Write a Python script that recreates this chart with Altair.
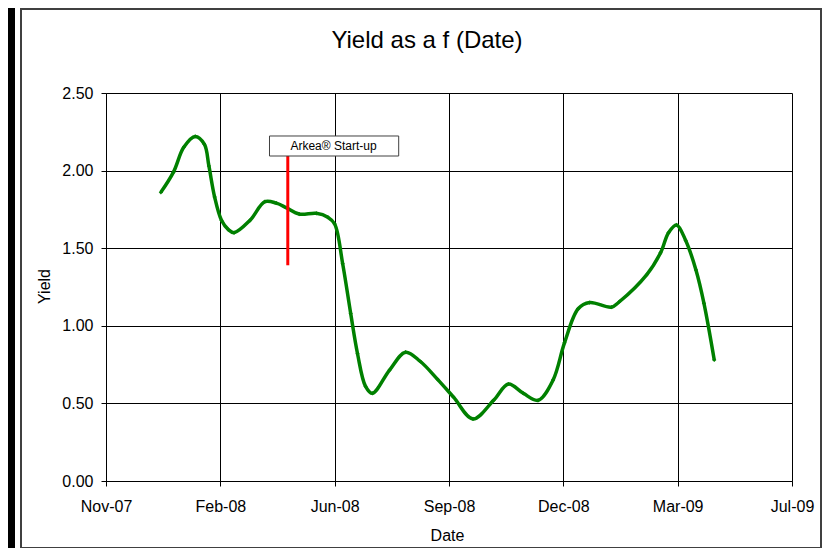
import altair as alt
import pandas as pd

# ---- data ----
dates = ["2008-01-01", "2008-01-12", "2008-01-21", "2008-01-31", "2008-02-08",
         "2008-02-12", "2008-02-17", "2008-02-23", "2008-02-29", "2008-03-05",
         "2008-03-19", "2008-04-01", "2008-04-11", "2008-04-20", "2008-05-01",
         "2008-05-16", "2008-05-26", "2008-06-01", "2008-06-08", "2008-06-15",
         "2008-06-21", "2008-06-28", "2008-07-04", "2008-07-19", "2008-08-02",
         "2008-08-15", "2008-08-30", "2008-09-13", "2008-09-30", "2008-10-18",
         "2008-10-31", "2008-11-13", "2008-11-26", "2008-12-09", "2008-12-19",
         "2008-12-31", "2009-01-10", "2009-01-29", "2009-02-05", "2009-03-01",
         "2009-03-13", "2009-03-20", "2009-03-27", "2009-04-04", "2009-04-13",
         "2009-04-20", "2009-04-29"]
yields = [1.86, 1.99, 2.15, 2.22, 2.17,
          2.03, 1.83, 1.68, 1.62, 1.60,
          1.68, 1.80, 1.79, 1.76, 1.72,
          1.725, 1.70, 1.656, 1.40, 1.08,
          0.82, 0.61, 0.565, 0.715, 0.83,
          0.77, 0.655, 0.54, 0.40, 0.52,
          0.625, 0.565, 0.52, 0.65, 0.89,
          1.11, 1.15, 1.12, 1.155, 1.33,
          1.47, 1.60, 1.65, 1.55, 1.36,
          1.145, 0.78]

y_ticks = [0.0, 0.5, 1.0, 1.5, 2.0, 2.5]
x_tick_dates = [(2007, 11, 14), (2008, 2, 22), (2008, 6, 1), (2008, 9, 9),
                (2008, 12, 18), (2009, 3, 28), (2009, 7, 6)]

startup_date = ["2008-04-21"]
startup_low = [1.39]
startup_high = [2.095]
note_text = ["Arkea® Start-up"]
note_box_start = ["2008-04-05"]
note_box_end = ["2008-07-27"]
note_box_low = [2.094]
note_box_high = [2.223]
note_center_date = ["2008-05-31"]
note_center_value = [2.158]

title_text = "Yield as a f (Date)"

FONT = "Liberation Sans"

df = pd.DataFrame({"date": [d + "T00:00:00" for d in dates], "yield": yields})
rule_df = pd.DataFrame({"date": [d + "T00:00:00" for d in startup_date],
                        "lo": startup_low, "hi": startup_high})
box_df = pd.DataFrame({"d1": [d + "T00:00:00" for d in note_box_start],
                       "d2": [d + "T00:00:00" for d in note_box_end],
                       "lo": note_box_low, "hi": note_box_high})
note_df = pd.DataFrame({"date": [d + "T00:00:00" for d in note_center_date],
                        "v": note_center_value, "t": note_text})
one = pd.DataFrame({"t": [title_text]})

x_scale = alt.Scale(domain=[alt.DateTime(year=2007, month=11, date=14),
                            alt.DateTime(year=2009, month=7, date=6)])
y_scale = alt.Scale(domain=[0, 2.5], nice=False, zero=True)

x_axis = alt.Axis(
    values=[alt.DateTime(year=y, month=m, date=d) for (y, m, d) in x_tick_dates],
    format="%b-%y", title="Date", grid=True, gridColor="#000000", gridOpacity=1,
    gridWidth=1, domainColor="#000000", tickColor="#000000", tickSize=5,
    labelPadding=20, labelBaseline="middle", labelFont=FONT, labelFontSize=16,
    labelColor="#000000", labelOverlap=False, labelFlush=False,
    titleFont=FONT, titleFontSize=16, titleFontWeight="normal", titleColor="#000000",
    titleX=341, titleY=54, titleBaseline="middle", titleAlign="center")

y_axis = alt.Axis(
    values=y_ticks, format=".2f", title="Yield", grid=True, gridColor="#000000",
    gridOpacity=1, gridWidth=1, domainColor="#000000", tickColor="#000000",
    tickSize=5, labelPadding=8, labelFont=FONT, labelFontSize=16,
    labelColor="#000000", titleFont=FONT, titleFontSize=16,
    titleFontWeight="normal", titleColor="#000000",
    titleX=-62, titleY=193, titleBaseline="middle", titleAlign="center")

# decorations: black band at the left and the grey chart frame
band = alt.Chart(one).mark_rect(color="#000000").encode(
    x=alt.value(-98), x2=alt.value(-91), y=alt.value(-85), y2=alt.value(460))
frame = alt.Chart(one).mark_rect(fillOpacity=0, stroke="#404040", strokeWidth=2).encode(
    x=alt.value(-85), x2=alt.value(715), y=alt.value(-84), y2=alt.value(455))

line = alt.Chart(df).mark_line(color="#008000", strokeWidth=3.5,
                               interpolate="catmull-rom").encode(
    x=alt.X("date:T", scale=x_scale, axis=x_axis),
    y=alt.Y("yield:Q", scale=y_scale, axis=y_axis))

pts = alt.Chart(df).mark_point(shape="diamond", filled=True, size=18,
                               color="#008000", opacity=1).encode(
    x="date:T", y="yield:Q")

rule = alt.Chart(rule_df).mark_rule(color="#FF0000", strokeWidth=3).encode(
    x="date:T", y="lo:Q", y2="hi:Q")

box = alt.Chart(box_df).mark_rect(fill="#FFFFFF", stroke="#404040",
                                  strokeWidth=1).encode(
    x="d1:T", x2="d2:T", y="lo:Q", y2="hi:Q")

note = alt.Chart(note_df).mark_text(font=FONT, fontSize=12, color="#000000",
                                    baseline="middle", align="center").encode(
    x="date:T", y="v:Q", text="t:N")

title = alt.Chart(one).mark_text(font=FONT, fontSize=24, color="#000000",
                                 baseline="middle", align="center").encode(
    x=alt.value(321), y=alt.value(-52), text="t:N")

chart = alt.layer(band, frame, line, pts, rule, box, note, title).properties(
    width=686, height=388,
    padding={"left": 98, "top": 85, "right": 32, "bottom": 67},
    autosize=alt.AutoSizeParams(type="none"),
    background="#FFFFFF",
).configure_view(stroke=None)

chart.save("out.html", embed_options={"renderer": "svg", "actions": False})
